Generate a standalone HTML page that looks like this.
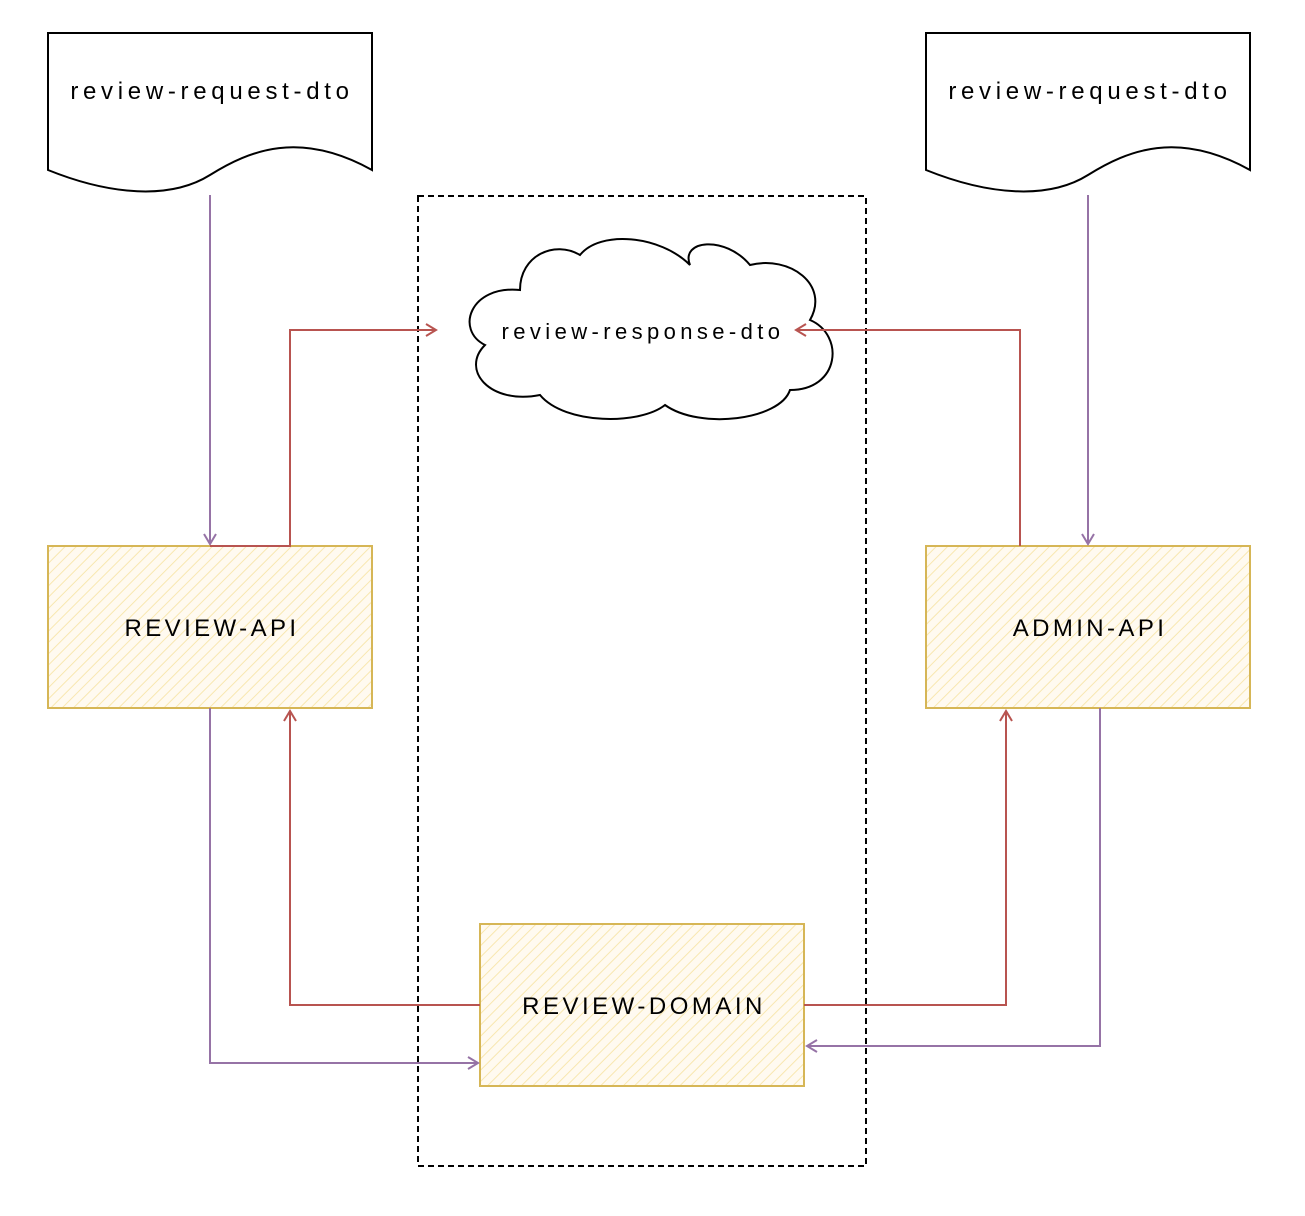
<!DOCTYPE html>
<html><head><meta charset="utf-8"><style>
html,body{margin:0;padding:0;background:#fff;}
svg{display:block}
text{font-family:"Liberation Sans",sans-serif;fill:#000;}
</style></head><body>
<svg width="1305" height="1216" viewBox="0 0 1305 1216" xmlns="http://www.w3.org/2000/svg">
<defs>
<pattern id="h" width="8" height="8" patternUnits="userSpaceOnUse" patternTransform="rotate(45)">
<rect width="8" height="8" fill="#fffaf0"/>
<line x1="0" y1="0" x2="0" y2="8" stroke="#f8e7b0" stroke-width="2"/>
</pattern>
<marker id="ap" markerWidth="14" markerHeight="14" refX="11" refY="7" orient="auto" markerUnits="userSpaceOnUse">
<path d="M1,1 L11,7 L1,13" fill="none" stroke="#9673a6" stroke-width="2"/></marker>
<marker id="ar" markerWidth="14" markerHeight="14" refX="11" refY="7" orient="auto" markerUnits="userSpaceOnUse">
<path d="M1,1 L11,7 L1,13" fill="none" stroke="#b85450" stroke-width="2"/></marker>
</defs>

<rect x="418" y="196" width="448" height="970" fill="none" stroke="#000" stroke-width="2" stroke-dasharray="6 4"/>

<path d="M48,33 L372,33 L372,170 C300,130 250,150 210,175 C170,200 110,195 48,170 Z" fill="#fff" stroke="#000" stroke-width="2"/>
<text x="212" y="99" font-size="24" letter-spacing="4.7" text-anchor="middle">review-request-dto</text>
<path d="M926,33 L1250,33 L1250,170 C1178,130 1128,150 1088,175 C1048,200 988,195 926,170 Z" fill="#fff" stroke="#000" stroke-width="2"/>
<text x="1090" y="99" font-size="24" letter-spacing="4.7" text-anchor="middle">review-request-dto</text>

<path d="M520,290 C470,285 455,330 485,345 C460,370 490,405 540,395 C565,425 640,425 665,405 C700,430 780,420 790,390 C840,390 845,335 810,320 C830,285 790,255 750,265 C725,235 680,240 690,265 C660,235 600,230 580,255 C555,240 520,255 520,290 Z" fill="#fff" stroke="#000" stroke-width="2"/>
<text x="643" y="339" font-size="22" letter-spacing="4.4" text-anchor="middle">review-response-dto</text>

<rect x="48" y="546" width="324" height="162" fill="url(#h)" stroke="#d6b656" stroke-width="2"/>
<text x="212" y="636" font-size="24" letter-spacing="3.4" text-anchor="middle">REVIEW-API</text>
<rect x="926" y="546" width="324" height="162" fill="url(#h)" stroke="#d6b656" stroke-width="2"/>
<text x="1090" y="636" font-size="24" letter-spacing="3.4" text-anchor="middle">ADMIN-API</text>
<rect x="480" y="924" width="324" height="162" fill="url(#h)" stroke="#d6b656" stroke-width="2"/>
<text x="644" y="1014" font-size="24" letter-spacing="3.5" text-anchor="middle">REVIEW-DOMAIN</text>

<g fill="none" stroke-width="2">
<path d="M210,195 L210,544" stroke="#9673a6" marker-end="url(#ap)"/>
<path d="M1088,195 L1088,544" stroke="#9673a6" marker-end="url(#ap)"/>
<path d="M210,546 L290,546 L290,330 L436,330" stroke="#b85450" marker-end="url(#ar)"/>
<path d="M1020,546 L1020,330 L796,330" stroke="#b85450" marker-end="url(#ar)"/>
<path d="M210,708 L210,1063 L478,1063" stroke="#9673a6" marker-end="url(#ap)"/>
<path d="M480,1005 L290,1005 L290,711" stroke="#b85450" marker-end="url(#ar)"/>
<path d="M804,1005 L1006,1005 L1006,711" stroke="#b85450" marker-end="url(#ar)"/>
<path d="M1100,708 L1100,1046 L807,1046" stroke="#9673a6" marker-end="url(#ap)"/>
</g>
</svg>
</body></html>
